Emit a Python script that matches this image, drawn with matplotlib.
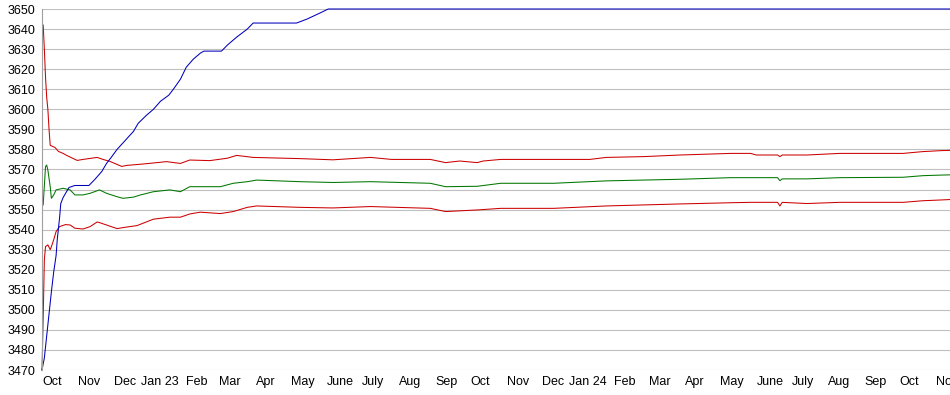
import numpy as np
import matplotlib.pyplot as plt
import matplotlib.transforms as mtransforms

plt.rcParams['font.family'] = ['Liberation Sans', 'DejaVu Sans']

# x values are days counted from 1 Oct 2022
start = np.datetime64('2022-10-01')

blue_days = [0, 2, 4, 6, 8, 10, 12, 13, 15, 16, 18, 23, 28, 40, 45, 51, 55, 59, 64,
             78, 82, 89, 95, 101, 108, 112, 118, 123, 129, 135, 138, 153, 158, 166,
             175, 180, 217, 226, 237, 244, 774]
blue_vals = [3470, 3476, 3487, 3498, 3509, 3519, 3527, 3535, 3546, 3553, 3556, 3561,
             3562, 3562, 3565, 3569, 3573, 3576, 3580, 3589, 3593, 3597, 3600, 3604,
             3607, 3610, 3615, 3621, 3625, 3628, 3629, 3629, 3632, 3636, 3640, 3643,
             3643, 3645, 3648, 3650, 3650]

upper_days = [1, 2, 3, 4, 5, 6, 7, 11, 14, 18, 21, 30, 35, 47, 52, 58, 68, 72, 86, 98,
              106, 118, 126, 143, 158, 166, 180, 220, 248, 280, 298, 331, 344, 356,
              371, 376, 391, 436, 467, 481, 513, 544, 587, 604, 609, 627, 629, 631,
              652, 680, 734, 751, 767, 774]
upper_vals = [3642, 3630, 3616, 3606, 3600, 3590, 3582, 3581, 3579, 3578, 3577, 3574.5,
              3575, 3576, 3575, 3574, 3571.5, 3572, 3572.7, 3573.4, 3573.9, 3573,
              3574.7, 3574.4, 3575.6, 3577, 3576, 3575.4, 3574.8, 3576, 3575, 3575,
              3573.4, 3574.2, 3573.4, 3574.2, 3575, 3575, 3575, 3576, 3576.4, 3577.2,
              3578, 3578, 3577.2, 3577.2, 3576.4, 3577.2, 3577.2, 3578, 3578, 3578.9,
              3579.4, 3579.5]

green_days = [1, 3, 4, 5, 7, 8, 10, 12, 18, 24, 28, 35, 41, 49, 55, 64, 69, 78, 84, 95,
              109, 118, 126, 152, 163, 175, 183, 220, 248, 280, 331, 344, 371, 391,
              436, 481, 544, 587, 604, 627, 629, 631, 652, 680, 734, 751, 767, 774]
green_vals = [3552.3, 3571.4, 3572.2, 3569.7, 3561.4, 3555.6, 3557.3, 3559.8, 3560.6,
              3559.8, 3557.3, 3557.3, 3558.1, 3559.8, 3558.1, 3556.4, 3555.6, 3556.2,
              3557.3, 3558.9, 3559.8, 3558.9, 3561.4, 3561.4, 3563.1, 3563.9, 3564.7,
              3563.9, 3563.5, 3563.9, 3563.1, 3561.4, 3561.6, 3563.1, 3563.1, 3564.3,
              3565.1, 3565.9, 3565.9, 3565.9, 3564.4, 3565.3, 3565.3, 3565.9, 3566.1,
              3566.9, 3567.2, 3567.3]

lower_days = [0, 1, 2, 3, 5, 7, 8, 10, 12, 15, 20, 24, 28, 35, 41, 47, 49, 55, 64, 69,
              81, 95, 109, 118, 126, 135, 152, 163, 175, 183, 220, 248, 280, 331, 344,
              371, 391, 436, 481, 544, 587, 604, 627, 629, 631, 652, 680, 734, 751,
              767, 774]
lower_vals = [3470, 3496, 3525, 3531.5, 3532.4, 3530, 3531.5, 3535, 3539, 3541.5,
              3542.5, 3542.3, 3540.7, 3540.3, 3541.5, 3543.8, 3543.5, 3542.3, 3540.5,
              3541, 3542, 3545.2, 3546.2, 3546.2, 3547.8, 3548.7, 3548, 3549, 3551.1,
              3551.8, 3551.1, 3550.8, 3551.5, 3550.6, 3549, 3549.8, 3550.6, 3550.6,
              3551.8, 3552.8, 3553.4, 3553.6, 3553.6, 3551.8, 3553.6, 3553, 3553.6,
              3553.6, 3554.4, 3554.8, 3555]

month_starts = ['2022-10-01', '2022-11-01', '2022-12-01', '2023-01-01', '2023-02-01',
                '2023-03-01', '2023-04-01', '2023-05-01', '2023-06-01', '2023-07-01',
                '2023-08-01', '2023-09-01', '2023-10-01', '2023-11-01', '2023-12-01',
                '2024-01-01', '2024-02-01', '2024-03-01', '2024-04-01', '2024-05-01',
                '2024-06-01', '2024-07-01', '2024-08-01', '2024-09-01', '2024-10-01',
                '2024-11-01']
month_labels = ['Oct', 'Nov', 'Dec', 'Jan 23', 'Feb', 'Mar', 'Apr', 'May', 'June', 'July',
                'Aug', 'Sep', 'Oct', 'Nov', 'Dec', 'Jan 24', 'Feb', 'Mar', 'Apr', 'May',
                'June', 'July', 'Aug', 'Sep', 'Oct', 'Nov']

y_ticks = list(range(3470, 3651, 10))

fig = plt.figure(figsize=(9.5, 3.95), dpi=100)
ax = fig.add_axes([42 / 950, 25 / 395, 908 / 950, 361 / 395])

for y in y_ticks:
    ax.axhline(y, color='#c0c0c0', lw=0.8, zorder=0)

line_kw = dict(lw=0.75, clip_on=False)
ax.plot(lower_days, lower_vals, color='#cc0000', **line_kw)
ax.plot(upper_days, upper_vals, color='#cc0000', **line_kw)
ax.plot(green_days, green_vals, color='#007700', **line_kw)
ax.plot(blue_days, blue_vals, color='#0000bb', **line_kw)

ax.set_xlim(0, 774)
ax.set_ylim(3470, 3650)

tick_pos = [(np.datetime64(d) - start).astype(int) for d in month_starts]
ax.set_xticks(tick_pos)
ax.set_xticklabels(month_labels, ha='left')
ax.set_yticks(y_ticks)
ax.tick_params(axis='both', length=0, labelsize=9, colors='#000000')
ax.tick_params(axis='x', pad=4)
ax.tick_params(axis='y', pad=5)

# the year labels sit a little to the left of their month start
shift = mtransforms.ScaledTranslation(-9 / 100, 0, fig.dpi_scale_trans)
for lab in ax.get_xticklabels():
    if lab.get_text().startswith('Jan'):
        lab.set_transform(lab.get_transform() + shift)

for side in ['top', 'right', 'bottom']:
    ax.spines[side].set_visible(False)
ax.spines['left'].set_color('#a0a0a0')
ax.spines['left'].set_linewidth(0.8)

fig.savefig('out.png', dpi=100)
